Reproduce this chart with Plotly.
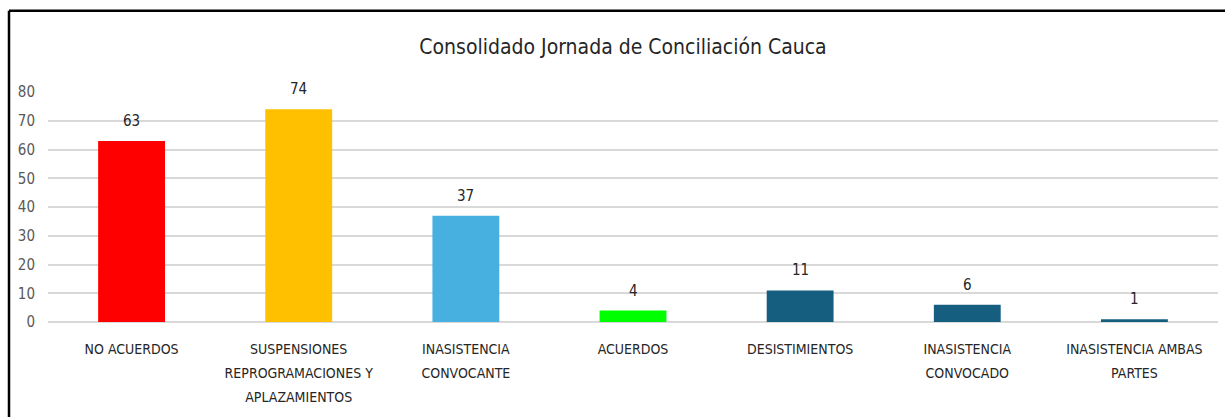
import plotly.graph_objects as go

categories = ["NO ACUERDOS", "SUSPENSIONES<br>REPROGRAMACIONES Y<br>APLAZAMIENTOS",
              "INASISTENCIA<br>CONVOCANTE", "ACUERDOS", "DESISTIMIENTOS",
              "INASISTENCIA<br>CONVOCADO", "INASISTENCIA AMBAS<br>PARTES"]
values = [63, 74, 37, 4, 11, 6, 1]
colors = ["#FF0000", "#FFC000", "#47B0E0", "#00FF00", "#165E80", "#165E80", "#165E80"]
title = "Consolidado Jornada de Conciliación Cauca"

W, H = 1225, 417
ml, mr, mt, mb = 48, 7, 92, 95
font_fam = "Liberation Sans Narrow, DejaVu Sans Condensed, Roboto, sans-serif"

fig = go.Figure(go.Bar(
    x=categories, y=values, marker_color=colors, marker_line_width=0,
    cliponaxis=False, hoverinfo="y",
))

for c, v in zip(categories, values):
    fig.add_annotation(x=c, y=v, text=str(v), showarrow=False, yanchor="bottom",
                       yshift=9, font=dict(size=15, color="#262626", family=font_fam))

# tick label text with smaller glyphs but wide line spacing
ticktext = ["<br>".join('<span style="font-size:14px">%s</span>' % part for part in c.split("<br>"))
            for c in categories]

pw = W - ml - mr
ph = H - mt - mb
x0 = (9 - ml) / pw
xr = (W + 5 - ml) / pw
y1 = 1 + (mt - 10.7) / ph
yb = -(mb + 5) / ph

border = dict(color="black", width=2.5)
fig.update_layout(
    width=W, height=H,
    margin=dict(l=ml, r=mr, t=mt, b=mb),
    paper_bgcolor="white", plot_bgcolor="white",
    bargap=0.6,
    showlegend=False,
    title=dict(text=title, x=623 / W, xanchor="center", y=1 - 47 / H, yanchor="middle",
               font=dict(size=21, color="#262626", family=font_fam)),
    font=dict(family=font_fam),
    xaxis=dict(showline=False, ticks="", tickfont=dict(size=18.5, color="#262626"),
               tickmode="array", tickvals=categories, ticktext=ticktext,
               tickangle=0, showgrid=False, ticklabelstandoff=12),
    yaxis=dict(range=[0, 80], dtick=10, showgrid=True, gridcolor="#D9D9D9", gridwidth=1.5,
               zeroline=True, zerolinecolor="#D9D9D9", zerolinewidth=1.5,
               tickfont=dict(size=15, color="#595959"), ticks="", ticklabelstandoff=12),
    shapes=[
        dict(type="line", xref="paper", yref="paper", x0=x0, x1=xr, y0=y1, y1=y1, line=border),
        dict(type="line", xref="paper", yref="paper", x0=x0, x1=x0, y0=y1, y1=yb, line=border),
    ],
)

fig.write_html("out.html", config={"displayModeBar": False},
               post_script="document.body.style.margin='0';document.body.style.overflow='hidden';")
